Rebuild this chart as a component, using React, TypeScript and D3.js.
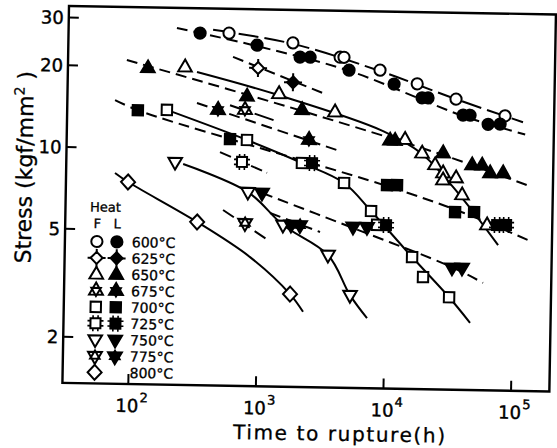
// Creep rupture curves, two heats (F open / L filled), 600-800°C
import * as d3 from 'd3'

const temps = ['600°C', '625°C', '650°C', '675°C', '700°C', '725°C', '750°C', '775°C', '800°C']
const xTicks = [1e2, 1e3, 1e4, 1e5]
const xExp = ['2', '3', '4', '5']
const yTicks = [30, 20, 10, 5, 2]

// [time to rupture (h), stress (kgf/mm2)]
const f600 = [[551, 26.9], [1750, 25.0], [4120, 22.3], [4420, 22.3], [8500, 20.1], [16700, 18.0], [33800, 15.9], [82300, 13.9]]
const l600 = [[327, 26.8], [917, 24.4], [2000, 22.2], [2400, 22.2], [4860, 20.0], [11000, 17.9], [18300, 16.0], [20400, 16.0], [38600, 13.9], [43800, 13.9], [60800, 12.9], [75500, 12.95]]
const lineF600 = [[413, 27.6], [1756, 24.8], [8500, 19.95], [33800, 15.9], [114000, 13.2]]
const lineL600 = [[215, 27.9], [917, 24.2], [4860, 19.9], [38600, 13.8], [119000, 11.9]]

const f625 = [[941, 20.1]]
const l625 = [[1776, 17.9]]
const lineL625 = [[597, 22.0], [3062, 16.4]]

const f650 = [[252, 20.05], [1384, 16.2], [3822, 14.0], [13640, 11.2], [18640, 10.0], [23650, 9.07], [27370, 8.48], [27420, 7.99], [34670, 8.15], [38860, 7.06], [61540, 5.49]]
const l650 = [[129, 19.8], [778, 15.8], [2107, 14.2], [10410, 11.1], [11390, 11.1], [27230, 10.05], [46120, 9.11], [55240, 9.11], [63930, 8.54], [80840, 8.55]]
const lineF650 = [[313, 19.25], [1384, 16.0], [9155, 12.0], [18640, 9.94], [38930, 6.88], [75600, 4.64]]
const lineL650 = [[88, 21.1], [2107, 14.06], [27230, 9.88], [137200, 7.63]]

const f675 = [[753, 14.06]]
const l675 = [[463, 14.0], [2412, 11.0]]
const lineF675 = [[574, 14.6], [1299, 12.9]]
const lineL675 = [[316, 14.8], [4236, 10.06]]

const f700 = [[184, 13.9], [788, 10.9], [2141, 9.04], [4603, 7.68], [7559, 6.08], [8457, 5.41], [16080, 4.14], [19710, 3.5], [31750, 2.96]]
const l700 = [[109, 13.8], [580, 10.96], [10000, 7.59], [11980, 7.6], [34430, 6.1], [48500, 6.12]]
const lineF700 = [[184, 13.9], [788, 10.9], [2141, 9.04], [4603, 7.68], [7559, 6.08], [16080, 4.14], [31750, 2.96], [46690, 2.39]]
const lineL700 = [[72, 15.0], [109, 13.8], [580, 10.96], [10000, 7.53], [40500, 6.06], [139400, 4.79]]

const f725 = [[725, 9.04]]
const l725 = [[2566, 9.05], [9947, 5.41], [73720, 5.5], [86750, 5.51]]
const lineF725 = [[486, 9.8], [1143, 8.27]]

const f750 = [[217, 8.94], [815, 7.01], [1550, 5.33], [3525, 4.16], [5309, 2.97]]
const l750 = [[1052, 6.97], [1792, 5.34], [5494, 5.3], [7072, 5.3], [33200, 3.8], [39770, 3.8]]
const lineF750 = [[251, 8.81], [815, 7.01], [1550, 5.33], [3525, 4.16], [5309, 2.97], [7265, 2.45]]
const lineL750 = [[1052, 6.97], [5494, 5.25], [33200, 3.82], [58300, 3.36]]

const f775 = [[781, 5.39]]
const l775 = [[2107, 5.34]]
const lineF775 = [[523, 6.0], [1189, 4.68]]
const lineL775 = [[1222, 5.89], [3029, 5.05]]

const f800 = [[93.4, 7.5], [329, 5.4], [1798, 2.97]]
const lineF800 = [[73.6, 8.08], [93.4, 7.5], [329, 5.4], [864, 4.04], [1798, 2.97], [2286, 2.56]]

const LONG = '20,6'
const SHORT = '11,6'

const series = [
  { temp: temps[0], shape: 'circle', f: f600, l: l600, fLine: lineF600, lLine: lineL600, fDash: LONG },
  { temp: temps[1], shape: 'diamondTab', f: f625, l: l625, fLine: null, lLine: lineL625, fDash: LONG },
  { temp: temps[2], shape: 'triUp', f: f650, l: l650, fLine: lineF650, lLine: lineL650, fDash: null },
  { temp: temps[3], shape: 'starUp', f: f675, l: l675, fLine: lineF675, lLine: lineL675, fDash: LONG },
  { temp: temps[4], shape: 'square', f: f700, l: l700, fLine: lineF700, lLine: lineL700, fDash: null },
  { temp: temps[5], shape: 'squareTab', f: f725, l: l725, fLine: lineF725, lLine: null, fDash: '12,5' },
  { temp: temps[6], shape: 'triDown', f: f750, l: l750, fLine: lineF750, lLine: lineL750, fDash: null },
  { temp: temps[7], shape: 'starDown', f: f775, l: l775, fLine: lineF775, lLine: lineL775, fDash: '13,6' },
  { temp: temps[8], shape: 'diamond', f: f800, l: null, fLine: lineF800, lLine: null, fDash: null },
]

const W = 557, H = 448
const X0 = 69, Y0 = 6, PW = 487, PH = 377
const FONT = 'DejaVu Sans'

const x = d3.scaleLog().domain([1e2, 1e5]).range([134.9, 517.7])
const y = d3.scaleLog().domain([30, 2]).range([17.5, 336.8])

const line = d3.line<number[]>()
  .x(d => x(d[0]))
  .y(d => y(d[1]))
  .curve(d3.curveCatmullRom.alpha(0.5))

function star(big: number, small: number, up: boolean) {
  const s = up ? 1 : -1
  const t1 = [[0, -big * s], [big * 0.866, big * 0.5 * s], [-big * 0.866, big * 0.5 * s]]
  const t2 = [[0, small * s], [small * 0.866, -small * 0.5 * s], [-small * 0.866, -small * 0.5 * s]]
  const p = (t: number[][]) => 'M' + t.map(q => q.join(',')).join('L') + 'Z'
  return [p(t1), p(t2)]
}

function Marker({ shape, filled, cx, cy }: { shape: string, filled: boolean, cx: number, cy: number }) {
  const fill = filled ? '#000' : '#fff'
  const st = { fill, stroke: '#000', strokeWidth: 2 }
  let body: any = null
  if (shape === 'circle') body = <circle r={5.6} {...st} />
  else if (shape === 'triUp') body = <path d="M0,-7.5L6.8,4.3L-6.8,4.3Z" {...st} />
  else if (shape === 'triDown') body = <path d="M0,7.5L6.8,-4.3L-6.8,-4.3Z" {...st} />
  else if (shape === 'square') body = <rect x={-5.2} y={-5.2} width={10.4} height={10.4} {...st} />
  else if (shape === 'diamond') body = <path d="M0,-7.5L7,0L0,7.5L-7,0Z" {...st} />
  else if (shape === 'diamondTab') body = (
    <g>
      <path d="M-9,0H9M0,-9V9" stroke="#000" strokeWidth={2} />
      <path d="M0,-6L6,0L0,6L-6,0Z" {...st} />
    </g>
  )
  else if (shape === 'squareTab') body = (
    <g>
      <path d="M-8,-2.5H8M-8,2.5H8M-2.5,-8V8M2.5,-8V8" stroke="#000" strokeWidth={1.6} />
      <rect x={-5} y={-5} width={10} height={10} {...st} />
    </g>
  )
  else if (shape === 'starUp' || shape === 'starDown') {
    const [a, b] = star(8, 5.5, shape === 'starUp')
    body = (
      <g>
        <path d={a} {...st} />
        <path d={b} {...st} fill={filled ? '#000' : 'none'} />
      </g>
    )
  }
  return <g transform={`translate(${cx},${cy})`}>{body}</g>
}

export default function App() {
  const legendY = (i: number) => 241 + i * 16.35
  return (
    <svg width={W} height={H} style={{ position: 'absolute', left: 0, top: 0, background: '#fff' }}
      fontFamily={FONT}>
      <g transform={`rotate(1 ${X0} ${Y0})`}>
        {/* frame and ticks */}
        <rect x={X0} y={Y0} width={PW} height={PH} fill="none" stroke="#000" strokeWidth={2.4} />
        {xTicks.map(t => (
          <line key={t} x1={x(t)} x2={x(t)} y1={Y0 + PH} y2={Y0 + PH - 10} stroke="#000" strokeWidth={2} />
        ))}
        {yTicks.map(t => (
          <line key={t} x1={X0} x2={X0 + 10} y1={y(t)} y2={y(t)} stroke="#000" strokeWidth={2} />
        ))}
        {xTicks.map((t, i) => (
          <text key={t} x={x(t) - 12.5} y={411} fontSize={18} stroke="#000" strokeWidth={0.4}>
            10<tspan dy={-10} dx={1} fontSize={13}>{xExp[i]}</tspan>
          </text>
        ))}
        {yTicks.map(t => (
          <text key={t} x={64} y={y(t)} dy="0.36em" textAnchor="end" fontSize={18} stroke="#000" strokeWidth={0.4}>{t}</text>
        ))}
        <text x={346.5} y={436} textAnchor="middle" fontSize={20} stroke="#000" strokeWidth={0.3}
          textLength={212} lengthAdjust="spacing">Time to rupture(h)</text>
        <text transform="translate(35,168) rotate(-90)" textAnchor="middle" fontSize={22} stroke="#000" strokeWidth={0.3}>
          Stress (kgf/mm<tspan dy={-9} fontSize={14}>2</tspan><tspan dy={9}> )</tspan>
        </text>

        {/* curves */}
        {series.map(s => (
          <g key={s.temp} fill="none" stroke="#000" strokeWidth={2}>
            {s.fLine && <path d={line(s.fLine) || ''} strokeDasharray={s.fDash || undefined} />}
            {s.lLine && <path d={line(s.lLine) || ''} strokeDasharray={SHORT} />}
          </g>
        ))}

        {/* data points */}
        {series.map(s => (
          <g key={s.temp}>
            {s.f.map((d, i) => <Marker key={'f' + i} shape={s.shape} filled={false} cx={x(d[0])} cy={y(d[1])} />)}
            {s.l && s.l.map((d, i) => <Marker key={'l' + i} shape={s.shape} filled={true} cx={x(d[0])} cy={y(d[1])} />)}
          </g>
        ))}

        {/* legend */}
        <text x={93.6} y={211} fontSize={13} stroke="#000" strokeWidth={0.3}>Heat</text>
        <text x={101} y={227.5} textAnchor="middle" fontSize={13} stroke="#000" strokeWidth={0.3}>F</text>
        <text x={121} y={227.5} textAnchor="middle" fontSize={13} stroke="#000" strokeWidth={0.3}>L</text>
        {series.map((s, i) => (
          <g key={s.temp}>
            <Marker shape={s.shape} filled={false} cx={101} cy={legendY(i)} />
            {s.l && <Marker shape={s.shape} filled={true} cx={121} cy={legendY(i)} />}
            <text x={136} y={legendY(i) + 5} fontSize={14} stroke="#000" strokeWidth={0.3}>{s.temp}</text>
          </g>
        ))}
      </g>
    </svg>
  )
}
